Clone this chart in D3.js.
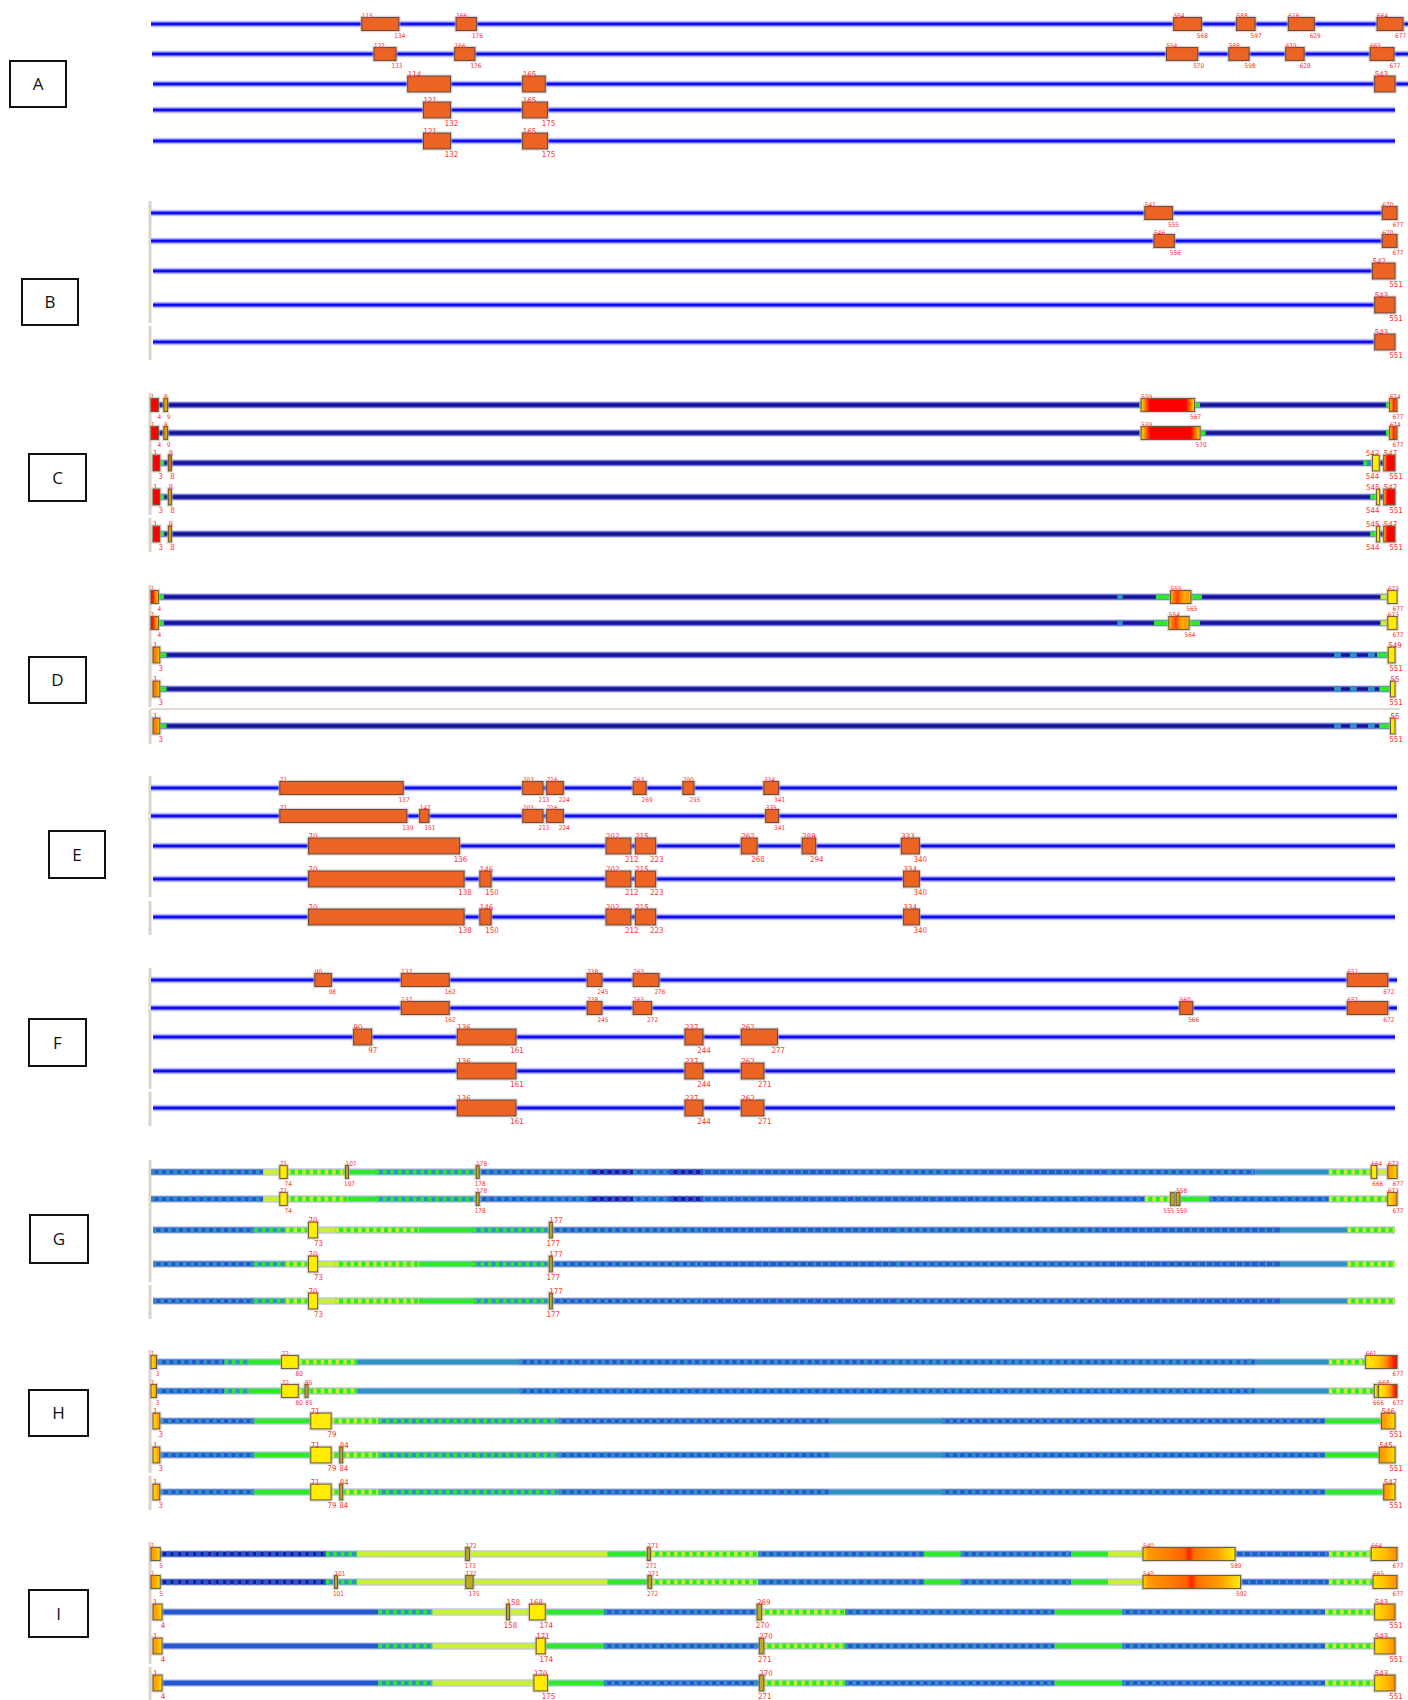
<!DOCTYPE html>
<html><head><meta charset="utf-8">
<script src="https://cdn.jsdelivr.net/npm/d3@7"></script>
<style>body{margin:0;background:#fff}svg{display:block}</style>
</head><body><svg id="c" width="1408" height="1700"></svg>
<script>
// ---------------- DATA ----------------
const panelNames = ["A","B","C","D","E","F","G","H","I"];
const seqLengths = [677, 677, 551, 551, 551];   // residues of the five sequences in each panel

// domains: [start, end, fill, startLabel?, endLabel?, labelAnchor?]  (label null = hidden)
const domainsA = [
  [[115,134],[166,176],[554,568],[588,597],[616,629],[664,677]],
  [[122,133],[166,176],[554,570],[588,598],[619,628],[665,677]],
  [[114,132,"o","114",null],[165,174,"o","165",null],[543,551,"o","543",null]],
  [[121,132],[165,175]],
  [[121,132],[165,175]]
];
const domainsB = [
  [[541,555],[670,677]],
  [[546,556],[670,677]],
  [[542,551]],
  [[543,551]],
  [[543,551]]
];
const domainsC = [
  [[1,4,"red"],[8,9,"gold"],[539,567,"heatC"],[674,677,"heatEnd"]],
  [[1,4,"red"],[8,9,"gold"],[539,570,"heatC"],[674,677,"heatEnd"]],
  [[1,3,"red"],[8,8,"dorange"],[542,544,"yellow","542","544","left"],[547,551,"redL"]],
  [[1,3,"red"],[8,8,"gold"],[544,544,"yellow","545","544","left"],[547,551,"redL"]],
  [[1,3,"red"],[8,8,"gold"],[544,544,"yellow","545","544","left"],[547,551,"redL"]]
];
const domainsD = [
  [[1,4,"redYellow"],[555,565,"mixOY"],[673,677,"yellow"]],
  [[1,4,"redYellow"],[554,564,"mixOY"],[673,677,"yellow"]],
  [[1,3,"orangeYellow"],[549,551,"yellow"]],
  [[1,3,"orangeYellow"],[550,551,"yellow","55"]],
  [[1,3,"orangeYellow"],[550,551,"yellow","55"]]
];
const domainsE = [
  [[71,137],[203,213],[216,224],[263,269],[290,295],[334,341]],
  [[71,139],[147,151],[203,213],[216,224],[335,341]],
  [[70,136],[202,212],[215,223],[262,268],[289,294],[333,340]],
  [[70,138],[146,150],[202,212],[215,223],[334,340]],
  [[70,138],[146,150],[202,212],[215,223],[334,340]]
];
const domainsF = [
  [[90,98],[137,162],[238,245],[263,276],[651,672]],
  [[137,162],[238,245],[263,272],[560,566],[651,672]],
  [[90,97],[136,161],[237,244],[262,277]],
  [[136,161],[237,244],[262,271]],
  [[136,161],[237,244],[262,271]]
];
const domainsG = [
  [[71,74,"yellow"],[107,107,"olive"],[178,178,"olive"],[664,666,"yellow"],[673,677,"oy"]],
  [[71,74,"yellow"],[178,178,"olive"],[555,556,"olive",null,"555","left"],[558,559,"olive","558","559","right"],[673,677,"yo"]],
  [[70,73,"yellow"],[177,177,"olive"]],
  [[70,73,"yellow"],[177,177,"olive"]],
  [[70,73,"yellow"],[177,177,"olive"]]
];
const domainsH = [
  [[1,3,"yo"],[72,80,"yellow"],[661,677,"yor"]],
  [[1,3,"yo"],[72,80,"yellow"],[85,85,"olive"],[666,666,"yellow",null],[668,677,"yor"]],
  [[1,3,"yo"],[71,79,"yellow"],[546,551,"oy"]],
  [[1,3,"yo"],[71,79,"yellow"],[84,84,"olive"],[545,551,"oy"]],
  [[1,3,"yo"],[71,79,"yellow"],[84,84,"olive"],[547,551,"oy"]]
];
const domainsI = [
  [[1,5,"oy"],[172,173,"olive"],[271,271,"olive"],[540,589,"heatI"],[664,677,"yo"]],
  [[1,5,"oy"],[101,101,"olive"],[172,175,"olive"],[271,272,"olive"],[540,592,"heatI"],[665,677,"yo"]],
  [[1,4,"oy"],[158,158,"olive"],[168,174,"yellow"],[269,270,"olive"],[543,551,"yo"]],
  [[1,4,"oy"],[171,174,"yellow"],[270,271,"olive"],[543,551,"yo"]],
  [[1,4,"oy"],[170,175,"yellow"],[270,271,"olive"],[543,551,"yo"]]
];

// score-coloured backbone: [start, end, level] level 0 navy .. 5 yellow (fraction = mottled mix)
const heatC = [
  [[0,677,0],[537,539,3],[567,570,3],[671,674,3]],
  [[0,677,0],[537,539,3],[570,573,3],[671,674,3]],
  [[0,551,0],[3,5,3],[537,542,2.5]],
  [[0,551,0],[3,5,3],[540,543,3]],
  [[0,551,0],[3,5,3],[540,543,3]]
];
const heatD = [
  [[0,677,0],[4,7,3],[525,528,2],[546,554,3],[565,571,3],[668,673,4]],
  [[0,677,0],[4,7,3],[525,528,2],[545,553,3],[564,570,3],[668,673,4]],
  [[0,551,0],[3,6,3],[524,527,2],[531,534,2],[539,542,2],[543,548,3]],
  [[0,551,0],[3,6,3],[524,527,2],[531,534,2],[539,542,2],[544,549,3]],
  [[0,551,0],[3,6,3],[524,527,2],[531,534,2],[539,542,2],[544,549,3]]
];
const heatG = [
  [[0,61,1.5],[61,71,4],[74,107,3.5],[107,122,3],[122,178,2.5],[178,238,1.5],[238,262,0.5],[262,282,1.5],[282,300,0.5],[300,380,1.2],[380,450,1.5],[450,520,1.2],[520,600,1.5],[600,640,2],[640,664,3.5],[666,673,4]],
  [[0,61,1.5],[61,71,4],[74,107,3.5],[107,122,3],[122,178,2.5],[178,238,1.5],[238,262,0.5],[262,282,1.5],[282,300,0.5],[300,450,1.2],[450,540,1.5],[540,555,3.5],[559,575,3],[575,640,1.5],[640,673,3.5]],
  [[0,45,1.5],[45,59,2.5],[59,70,3.5],[73,81,4],[81,118,3.5],[118,142,3],[142,177,2.5],[177,243,1.5],[243,330,1.2],[330,420,1.5],[420,500,1.2],[500,530,2],[530,551,3.5]],
  [[0,45,1.5],[45,59,2.5],[59,70,3.5],[73,81,4],[81,118,3.5],[118,142,3],[142,177,2.5],[177,243,1.5],[243,330,1.2],[330,420,1.5],[420,500,1.2],[500,530,2],[530,551,3.5]],
  [[0,45,1.5],[45,59,2.5],[59,70,3.5],[73,81,4],[81,118,3.5],[118,142,3],[142,177,2.5],[177,243,1.5],[243,330,1.2],[330,420,1.5],[420,500,1.2],[500,530,2],[530,551,3.5]]
];
const heatH = [
  [[0,40,1.5],[40,53,2.5],[53,72,3],[80,112,3.5],[112,200,2],[200,400,1.5],[400,600,1.7],[600,640,2],[640,661,3.5]],
  [[0,40,1.5],[40,53,2.5],[53,72,3],[80,112,3.5],[112,200,2],[200,400,1.5],[400,600,1.7],[600,640,2],[640,668,3.5]],
  [[0,45,1.5],[45,71,3],[79,100,3.5],[100,180,2.5],[180,300,1.5],[300,350,2],[350,520,1.5],[520,546,3]],
  [[0,45,1.5],[45,71,3],[79,100,3.5],[100,180,2.5],[180,300,1.5],[300,350,2],[350,520,1.5],[520,545,3]],
  [[0,45,1.5],[45,71,3],[79,100,3.5],[100,180,2.5],[180,300,1.5],[300,350,2],[350,520,1.5],[520,547,3]]
];
const heatI = [
  [[0,95,0.8],[95,112,2.5],[112,248,4],[248,272,3],[272,330,3.5],[330,420,1.5],[420,440,3],[440,500,1.5],[500,520,3],[520,540,4],[589,640,1.2],[640,664,3.5]],
  [[0,95,0.8],[95,112,2.5],[112,248,4],[248,272,3],[272,330,3.5],[330,420,1.5],[420,440,3],[440,500,1.5],[500,520,3],[520,540,4],[592,640,1.2],[640,665,3.5]],
  [[0,100,1],[100,124,2.5],[124,168,4],[174,200,3],[200,268,1.5],[270,307,3.5],[307,400,1.5],[400,430,3],[430,520,1.5],[520,543,3.5]],
  [[0,100,1],[100,124,2.5],[124,171,4],[174,200,3],[200,269,1.5],[271,307,3.5],[307,400,1.5],[400,430,3],[430,520,1.5],[520,543,3.5]],
  [[0,100,1],[100,124,2.5],[124,170,4],[175,200,3],[200,269,1.5],[271,307,3.5],[307,400,1.5],[400,430,3],[430,520,1.5],[520,543,3.5]]
];

const panelDomains = [domainsA,domainsB,domainsC,domainsD,domainsE,domainsF,domainsG,domainsH,domainsI];
const panelHeat = [null,null,heatC,heatD,null,null,heatG,heatH,heatI];

// ---------------- LAYOUT / STYLE ----------------
const rowY = [
  [24,54,84,110,141],[213,241,271,305,342],[405,433,463,497,534],
  [597,623,655,689,726],[788,816,846,879,917],[980,1008,1037,1071,1108],
  [1172,1199,1230,1264,1301],[1362,1391,1421,1455,1492],[1554,1582,1612,1646,1683]
];
const labelBoxes = [
  [10,61,56,46],[22,279,56,46],[29,454,57,47],[29,657,57,46],[49,831,56,47],
  [29,1019,57,47],[30,1215,58,48],[29,1390,59,46],[29,1590,59,47]
];
const levelColor = d3.scaleLinear().domain([0,1,2,3,4,5])
  .range(["#1a1a9c","#2458cc","#2f92c0","#2ee82e","#c8f032","#f6f000"]);
const solidFill = {o:"#eb6423", red:"#ff0000", gold:"#e0a400", dorange:"#e47000", yellow:"#ffec00", olive:"#bca82a"};
const gradStops = {
  heatC:[[0,"#ffe000"],[.07,"#ff8000"],[.16,"#ff0000"],[.84,"#ff0000"],[.93,"#ff8000"],[1,"#ffe000"]],
  heatEnd:[[0,"#ffd000"],[.3,"#ff8000"],[.55,"#ff2000"],[1,"#ff8000"]],
  redL:[[0,"#ffd000"],[.18,"#ff6000"],[.3,"#ff0000"],[1,"#ff0000"]],
  redYellow:[[0,"#d00000"],[.35,"#ff3000"],[.6,"#ff8000"],[1,"#ffd000"]],
  orangeYellow:[[0,"#ff6a00"],[.6,"#ff9000"],[1,"#ffd800"]],
  mixOY:[[0,"#ffc800"],[.15,"#ff7a00"],[.35,"#ff4000"],[.5,"#ff8000"],[.7,"#ffb000"],[.85,"#ff9000"],[1,"#ffd000"]],
  oy:[[0,"#ff9000"],[.5,"#ffb000"],[1,"#ffe000"]],
  yo:[[0,"#ffe000"],[.5,"#ffc000"],[1,"#ff8a00"]],
  yor:[[0,"#ffe800"],[.35,"#ffd000"],[.65,"#ff9000"],[.85,"#ff3000"],[1,"#ff0000"]],
  heatI:[[0,"#ffd000"],[.06,"#ff9a00"],[.3,"#ff7a00"],[.45,"#ff6000"],[.5,"#ff2000"],[.55,"#ff7000"],[.8,"#ffa000"],[.92,"#ffd000"],[1,"#ffe800"]]
};

const svg = d3.select("#c");
const defs = svg.append("defs");
Object.entries(gradStops).forEach(([id, stops]) => {
  const g = defs.append("linearGradient").attr("id","g_"+id).attr("x1","0").attr("x2","1").attr("y1","0").attr("y2","0");
  stops.forEach(([o,c]) => g.append("stop").attr("offset",o).attr("stop-color",c));
});
const fillOf = f => solidFill[f] ? solidFill[f] : `url(#g_${f})`;
const labelFont = "'DejaVu Sans Condensed','Liberation Sans',sans-serif";

function rowScale(p, r){
  const L = seqLengths[r];
  let x0 = L===677 ? 151 : 153, x1 = L===677 ? 1397 : 1395;
  if (p===0 && r===0) x1 = 1403;
  if (p===0 && r===1) { x0 = 152; x1 = 1394; }
  return d3.scaleLinear().domain([0, L]).range([x0, x1]);
}
function lineEnd(p, r, x){
  if (p===0 && r<3) return 1408;
  return x(seqLengths[r]);
}

// panel letter boxes
panelNames.forEach((n,p) => {
  const [bx,by,bw,bh] = labelBoxes[p];
  svg.append("rect").attr("x",bx).attr("y",by).attr("width",bw).attr("height",bh)
    .attr("fill","#fff").attr("stroke","#111").attr("stroke-width",2);
  svg.append("text").attr("x",bx+bw/2).attr("y",by+bh/2+6).attr("text-anchor","middle")
    .attr("font-family","'Open Sans', 'Liberation Sans', sans-serif").attr("font-size",17).attr("fill","#111").text(n);
});

// left grey bars
panelNames.forEach((n,p) => {
  if (p===0) return;
  const ys = rowY[p];
  svg.append("rect").attr("x",148.5).attr("y",ys[0]-12).attr("width",3).attr("height",ys[3]+18-(ys[0]-12)).attr("fill","#ddd3c9");
  svg.append("rect").attr("x",148.5).attr("y",ys[4]-16).attr("width",3).attr("height",34).attr("fill","#ddd3c9");
});
// separator in panel D
svg.append("line").attr("x1",150).attr("x2",1400).attr("y1",709).attr("y2",709).attr("stroke","#d8cec5").attr("stroke-width",1.5);

panelNames.forEach((n,p) => {
  const doms = panelDomains[p], heat = panelHeat[p];
  doms.forEach((row, r) => {
    const x = rowScale(p, r), y = rowY[p][r];
    const k = (x.range()[1]-x.range()[0]) / seqLengths[r];
    const g = svg.append("g");
    const xEnd = lineEnd(p, r, x);
    if (!heat) {
      g.append("line").attr("x1",x(0)).attr("x2",xEnd).attr("y1",y).attr("y2",y).attr("stroke","#b8b8ff").attr("stroke-width",6.5);
      g.append("line").attr("x1",x(0)).attr("x2",xEnd).attr("y1",y).attr("y2",y).attr("stroke","#0c0cf2").attr("stroke-width",3.2);
    } else {
      g.append("line").attr("x1",x(0)).attr("x2",xEnd).attr("y1",y).attr("y2",y).attr("stroke","#c4c6ee").attr("stroke-width",7.5);
      heat[r].forEach(([s,e,lv]) => {
        const lo = Math.floor(lv), f = lv - lo;
        if (lv===0) {
          g.append("line").attr("x1",x(s)).attr("x2",x(e)).attr("y1",y).attr("y2",y).attr("stroke","#2b2bbc").attr("stroke-width",4.8);
          g.append("line").attr("x1",x(s)).attr("x2",x(e)).attr("y1",y).attr("y2",y).attr("stroke","#14148c").attr("stroke-width",2.2);
          return;
        }
        g.append("line").attr("x1",x(s)).attr("x2",x(e)).attr("y1",y).attr("y2",y)
          .attr("stroke",levelColor(lo)).attr("stroke-width",4.8);
        if (f > 0) {
          g.append("line").attr("x1",x(s)).attr("x2",x(e)).attr("y1",y).attr("y2",y)
            .attr("stroke",levelColor(lo+1)).attr("stroke-width",4.8)
            .attr("stroke-dasharray",`${(1.5+4*f).toFixed(1)} ${(6-4*f).toFixed(1)}`);
        }
      });
    }
    const h = 7*k, fs = 3.5*k;
    row.forEach(d => {
      const [s,e,fill="o",sl,el,anch] = d;
      let xa = x(s-1), xb = x(e);
      if (xb - xa < 3) { const c=(xa+xb)/2; xa=c-1.5; xb=c+1.5; }
      const border = fill==="o" ? "#6e4632" : "#6a5a34";
      g.append("rect").attr("x",xa-0.5).attr("y",y-h/2-0.5).attr("width",xb-xa+1).attr("height",h+1)
        .attr("fill","none").attr("stroke","#b4b4b4").attr("stroke-width",2.5).attr("opacity",0.55);
      g.append("rect").attr("x",xa).attr("y",y-h/2).attr("width",xb-xa).attr("height",h)
        .attr("fill",fillOf(fill)).attr("stroke",border).attr("stroke-width",1);
      const startLab = sl===undefined ? String(s) : sl;
      const endLab = el===undefined ? String(e) : el;
      if (startLab !== null) {
        const t = g.append("text").attr("y",y-h/2+0.5).attr("font-size",fs)
          .attr("font-family",labelFont).attr("fill","#ff2e2e").text(startLab);
        if (anch==="left") t.attr("x",xb).attr("text-anchor","end"); else t.attr("x",xa);
      }
      if (endLab !== null) {
        const t = g.append("text").attr("y",y+h/2+fs*0.95+1).attr("font-size",fs)
          .attr("font-family",labelFont).attr("fill","#ff2e2e").text(endLab);
        if (anch==="left") t.attr("x",xb).attr("text-anchor","end");
        else if (anch==="right") t.attr("x",xa).attr("text-anchor","start");
        else {
          const w = endLab.length*fs*0.55;
          t.attr("x",Math.min(xb+1, 1406-w/2)).attr("text-anchor","middle");
        }
      }
    });
  });
});
</script>
</body></html>
